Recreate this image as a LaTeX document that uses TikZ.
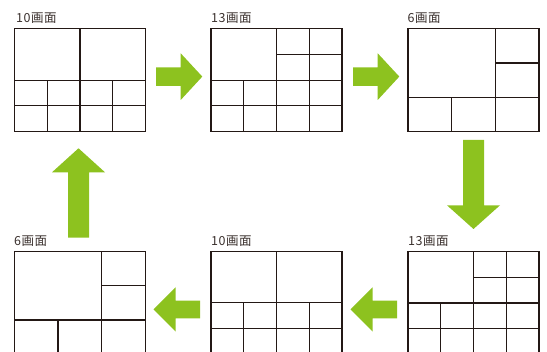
\documentclass[tikz,border=0pt]{standalone}
\usepackage{fontspec}
\newfontfamily\jp[LetterSpace=4]{Noto Sans CJK JP}
\definecolor{ink}{HTML}{231815}
\definecolor{leaf}{HTML}{8DC21F}
\tikzset{
  grid line/.style={draw=ink, line width=1.1pt},
  lbl/.style={font=\jp\fontsize{12.5}{13}\selectfont, text=ink!90, anchor=base west, inner sep=0pt},
  blockarrow/.style={fill=leaf, draw=none},
  pics/ten/.style={code={
    \draw[grid line] (0,0) rectangle (131,103);
    \draw[grid line] (65.5,0) -- (65.5,103);
    \draw[grid line] (0,51.5) -- (131,51.5);
    \draw[grid line] (0,77.25) -- (131,77.25);
    \draw[grid line] (32.75,51.5) -- (32.75,103);
    \draw[grid line] (98.25,51.5) -- (98.25,103);
  }},
  pics/thirteen/.style={code={
    \draw[grid line] (0,0) rectangle (131,103);
    \draw[grid line] (65.5,0) -- (65.5,103);
    \draw[grid line] (98.25,0) -- (98.25,103);
    \draw[grid line] (32.75,51.5) -- (32.75,103);
    \draw[grid line] (0,51.5) -- (131,51.5);
    \draw[grid line] (0,77.25) -- (131,77.25);
    \draw[grid line] (65.5,25.75) -- (131,25.75);
  }},
  pics/six/.style={code={
    \draw[grid line] (0,0) rectangle (131,103);
    \draw[grid line] (87.33,0) -- (87.33,103);
    \draw[grid line] (0,68.67) -- (131,68.67);
    \draw[grid line] (87.33,34.33) -- (131,34.33);
    \draw[grid line] (43.67,68.67) -- (43.67,103);
  }}
}
\begin{document}
\begin{tikzpicture}[x=1pt,y=-1pt]
\useasboundingbox (0,0) rectangle (547,352);
\clip (0,0) rectangle (547,352);
% panels
\pic (p1) at (14.5,28.7) {ten};
\pic (p2) at (211,28.7) {thirteen};
\pic (p3) at (408,28.7) {six};
\pic (p4) at (14.3,251.3) {six};
\pic (p5) at (211,251.3) {ten};
\pic (p6) at (408,251.5) {thirteen};
% labels
\node[lbl] (l1) at (16,23) {10画面};
\node[lbl] (l2) at (211,23) {13画面};
\node[lbl] (l3) at (407.5,23) {6画面};
\node[lbl] (l4) at (14,245.8) {6画面};
\node[lbl] (l5) at (211,245.8) {10画面};
\node[lbl] (l6) at (408,245.8) {13画面};
% arrows: right
\fill[blockarrow] (156,67.3) -- (180.7,67.3) -- (180.7,53.3) -- (202.3,76.6) -- (180.7,100) -- (180.7,85.8) -- (156,85.8) -- cycle;
\fill[blockarrow] (353,67.3) -- (377.7,67.3) -- (377.7,53.3) -- (399.3,76.6) -- (377.7,100) -- (377.7,85.8) -- (353,85.8) -- cycle;
% down
\fill[blockarrow] (463,140) -- (484,140) -- (484,205.3) -- (500,205.3) -- (473.5,229) -- (447,205.3) -- (463,205.3) -- cycle;
% up
\fill[blockarrow] (68,237.7) -- (89,237.7) -- (89,172.3) -- (105,172.3) -- (78.5,148.3) -- (52,172.3) -- (68,172.3) -- cycle;
% left
\fill[blockarrow] (200,300.7) -- (175.7,300.7) -- (175.7,287.3) -- (153.5,309.5) -- (175.7,331.7) -- (175.7,318.3) -- (200,318.3) -- cycle;
\fill[blockarrow] (397,300.7) -- (372.7,300.7) -- (372.7,287.3) -- (350.5,309.5) -- (372.7,331.7) -- (372.7,318.3) -- (397,318.3) -- cycle;
\end{tikzpicture}
\end{document}
